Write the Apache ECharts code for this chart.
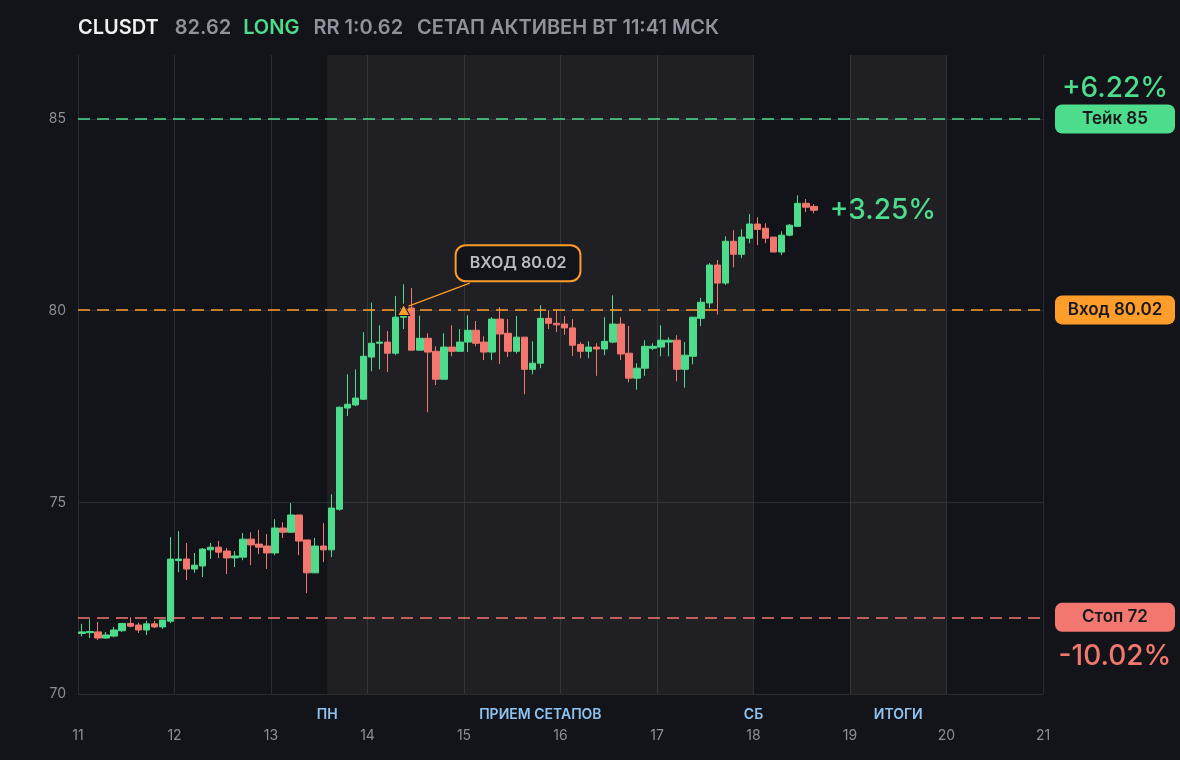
<!DOCTYPE html>
<html><head><meta charset="utf-8">
<script src="https://cdn.jsdelivr.net/npm/echarts@6/dist/echarts.min.js"></script>
<style>html,body{margin:0;padding:0;background:#131419;}#c{width:1180px;height:760px;}</style>
</head><body><div id="c"></div><script>
// ---- data ----
const ticker = 'CLUSDT';
const side = 'LONG';
const statusText = 'СЕТАП АКТИВЕН ВТ 11:41 МСК';
const startDay = 11;          // first candle day
const candleHours = 2;        // candle period, hours
const xTicks = [11, 21];      // x axis range (days)
const yTicks = [70, 86.67];   // y axis range
const entry = 80.02, take = 85, stop = 72;
const entryCandle = 40;
const opens = [71.58,71.60,71.62,71.46,71.51,71.65,71.84,71.80,71.67,71.83,71.75,71.90,
  73.48,73.52,73.26,73.34,73.76,73.83,73.73,73.55,73.57,74.04,73.91,73.86,
  73.68,74.33,74.22,74.67,74.02,73.16,73.86,73.76,74.82,77.46,77.54,77.69,
  78.79,79.15,79.18,78.89,79.83,80.07,78.97,79.28,78.94,78.21,79.05,78.94,
  79.18,79.49,79.18,78.92,79.78,79.41,78.94,79.31,78.47,78.63,79.80,79.67,
  79.65,79.55,79.12,78.94,79.05,79.00,79.18,79.65,78.89,78.24,78.50,79.02,
  79.05,79.18,79.23,78.47,78.81,79.80,80.20,81.19,80.72,81.81,81.47,81.89,
  82.26,82.15,81.92,81.53,81.97,82.20,82.80,82.72];
const closes = [71.62,71.63,71.46,71.54,71.67,71.84,71.77,71.67,71.83,71.75,71.93,73.52,
  73.52,73.26,73.36,73.78,73.83,73.70,73.55,73.60,74.04,73.89,73.83,73.68,
  74.33,74.22,74.67,73.99,73.16,73.86,73.76,74.85,77.48,77.56,77.72,78.81,
  79.15,79.18,78.89,79.83,80.05,78.97,79.28,78.92,78.21,79.05,78.94,79.18,
  79.49,79.15,78.92,79.78,79.39,78.94,79.31,78.47,78.63,79.80,79.67,79.63,
  79.55,79.10,78.94,79.05,79.00,79.20,79.65,78.87,78.24,78.50,79.07,79.07,
  79.23,79.23,78.47,78.84,79.83,80.22,81.19,80.72,81.81,81.47,81.92,82.26,
  82.12,81.89,81.53,81.97,82.23,82.80,82.70,82.62];
const lows = [71.50,71.46,71.41,71.44,71.48,71.62,71.74,71.59,71.54,71.72,71.70,71.85,
  73.18,72.97,73.16,73.05,73.52,73.55,73.13,73.31,73.49,73.36,73.65,73.26,
  73.62,74.07,74.20,73.62,72.63,73.16,73.44,73.57,74.78,77.25,77.51,77.67,
  78.42,78.47,78.40,78.84,79.52,78.97,78.97,77.35,78.06,78.21,78.81,78.94,
  78.92,79.07,78.71,78.71,78.61,78.79,78.88,77.82,78.34,78.50,79.52,79.44,
  79.37,78.82,78.76,78.76,78.30,78.84,79.15,78.71,78.13,77.94,78.30,78.97,
  78.81,78.81,78.16,77.99,78.60,79.60,80.07,79.90,80.67,81.13,81.37,81.76,
  81.71,81.76,81.53,81.45,81.94,82.20,82.57,82.54];
const highs = [71.83,71.95,71.88,71.62,71.75,71.84,72.00,71.86,71.91,71.91,71.93,74.09,
  74.25,73.94,73.68,73.81,73.94,73.99,73.81,73.73,74.20,74.22,74.28,74.17,
  74.56,74.48,74.98,74.67,74.02,74.07,74.46,75.21,77.50,78.34,78.47,79.44,
  80.21,79.62,79.47,80.38,80.69,80.59,79.87,79.41,79.07,79.41,79.62,79.52,
  79.88,79.73,79.33,79.83,80.09,79.78,79.86,79.31,79.20,80.14,80.01,80.00,
  79.86,79.78,79.18,79.20,79.15,79.83,80.40,79.83,79.60,78.63,79.23,79.15,
  79.62,79.31,79.36,79.18,79.83,80.33,81.24,81.32,81.94,82.10,82.12,82.52,
  82.44,82.28,81.92,82.07,82.26,83.01,82.91,82.78];
const bandFrom = [13.583, 19];
const bandTo = [18, 20];
const bandLabels = ['ПРИЕМ СЕТАПОВ', 'ИТОГИ'];
const edgeX = [13.583, 18];
const edgeLabels = ['ПН', 'СБ'];

// ---- styles ----
const FONT = 'Inter, "Noto Sans", sans-serif';
const GREEN = '#4ddc8c', RED = '#f3776f', ORANGE = '#ff9d2b';
const GRAY = '#8a8f98', BLUE = '#8fc3f0';

const times = opens.map((_, i) => startDay + (i * candleHours + candleHours / 2) / 24);
const candles = opens.map((o, i) => [times[i], o, closes[i], lows[i], highs[i]]);
const last = closes.length - 1;
const pct = v => ((v - entry) / entry * 100);
const fmtPct = v => (v >= 0 ? '+' : '') + v.toFixed(2) + '%';
const rr = ((take - entry) / (entry - stop)).toFixed(2);

function levelLine(val, color, text) {
  return {
    yAxis: val,
    lineStyle: { color, type: [12, 7], width: 1.5 },
    label: {
      show: true, position: 'end', distance: 12,
      formatter: '{b|' + text + '}',
      rich: { b: { width: 120, height: 29, lineHeight: 29, align: 'center',
        backgroundColor: color, borderRadius: 7, color: '#17181c',
        fontSize: 17, fontWeight: 600, fontFamily: FONT } }
    }
  };
}

const bandLabelStyle = { color: BLUE, fontSize: 14, fontWeight: 600, fontFamily: FONT };

const chart = echarts.init(document.getElementById('c'), null, { renderer: 'canvas' });
chart.setOption({
  backgroundColor: '#131419',
  animation: false,
  title: {
    left: 78, top: 18, padding: 0,
    text: '{t|' + ticker + '}{p|' + closes[last].toFixed(2) + '}{l|' + side + '}{g|RR 1:' + rr + '}{g|' + statusText + '}',
    textStyle: {
      rich: {
        t: { color: '#eef0f3', fontSize: 20, fontWeight: 600, fontFamily: FONT },
        p: { color: '#8e939b', fontSize: 20, fontWeight: 600, fontFamily: FONT, padding: [0, 0, 0, 16] },
        l: { color: GREEN, fontSize: 20, fontWeight: 600, fontFamily: FONT, padding: [0, 0, 0, 12] },
        g: { color: '#8e939b', fontSize: 20, fontWeight: 600, fontFamily: FONT, padding: [0, 0, 0, 14] }
      }
    }
  },
  grid: { left: 78, right: 137, top: 55, bottom: 66 },
  xAxis: {
    type: 'value', min: xTicks[0], max: xTicks[1], interval: 1,
    axisLine: { show: false }, axisTick: { show: false },
    axisLabel: { color: GRAY, fontSize: 14, fontFamily: FONT, margin: 35 },
    splitLine: { show: true, lineStyle: { color: '#2a2c32', width: 1 } }
  },
  yAxis: {
    type: 'value', min: yTicks[0], max: yTicks[1], interval: 5,
    axisLine: { show: false }, axisTick: { show: false },
    axisLabel: { color: GRAY, fontSize: 14, fontFamily: FONT, margin: 12, showMaxLabel: false },
    splitLine: { show: true, showMaxLine: false, lineStyle: { color: '#2a2c32', width: 1 } }
  },
  series: [{
    type: 'candlestick',
    data: candles,
    encode: { x: 0, y: [1, 2, 3, 4] },
    barWidth: 7,
    itemStyle: { color: GREEN, color0: RED, borderColor: GREEN, borderColor0: RED, borderWidth: 1 },
    markArea: {
      silent: true,
      itemStyle: { color: 'rgba(255,255,255,0.05)' },
      label: Object.assign({ show: true, position: 'bottom', distance: 14 }, bandLabelStyle),
      data: bandFrom.map((f, i) => [{ xAxis: f, name: bandLabels[i] }, { xAxis: bandTo[i] }])
    },
    markLine: {
      silent: true, symbol: 'none', animation: false,
      data: [
        levelLine(take, GREEN, 'Тейк ' + take),
        levelLine(entry, ORANGE, 'Вход ' + entry.toFixed(2)),
        levelLine(stop, RED, 'Стоп ' + stop),
        [{ coord: [times[entryCandle] + 0.05, entry + 0.1], lineStyle: { color: ORANGE, type: 'solid', width: 1.2 }, label: { show: false } },
         { coord: [15.06, 80.72] }]
      ]
    },
    markPoint: {
      silent: true, animation: false,
      data: [
        { coord: [times[entryCandle], entry], symbol: 'triangle', symbolSize: [12, 11],
          itemStyle: { color: ORANGE, borderColor: '#131419', borderWidth: 1 }, label: { show: false } },
        { coord: [15.56, 81.24], symbolSize: 0,
          label: { show: true, position: 'inside', formatter: 'ВХОД ' + entry.toFixed(2),
            color: '#b9bcc3', fontSize: 16, fontWeight: 600, fontFamily: FONT,
            backgroundColor: '#131419', borderColor: ORANGE, borderWidth: 2, borderRadius: 9,
            padding: [9, 13, 9, 13] } },
        { coord: [times[last], closes[last]], symbolSize: 0,
          label: { show: true, position: 'right', distance: 16, formatter: fmtPct(pct(closes[last])),
            color: GREEN, fontSize: 28, fontWeight: 500, fontFamily: FONT, padding: [4, 0, 0, 0] } }
      ].concat(edgeX.map((x, i) => ({ coord: [x, yTicks[0]], symbolSize: 0,
          label: Object.assign({ show: true, position: 'bottom', distance: 14, formatter: edgeLabels[i] }, bandLabelStyle) })))
    }
  }]
});

const pTake = chart.convertToPixel({ gridIndex: 0 }, [xTicks[1], take]);
const pStop = chart.convertToPixel({ gridIndex: 0 }, [xTicks[1], stop]);
chart.setOption({
  graphic: [
    { type: 'text', x: pTake[0] + 72, y: pTake[1] - 30,
      style: { text: fmtPct(pct(take)), fill: GREEN, font: '500 28px ' + FONT, textAlign: 'center', textVerticalAlign: 'middle' } },
    { type: 'text', x: pStop[0] + 72, y: pStop[1] + 39,
      style: { text: fmtPct(pct(stop)).replace('+', ''), fill: RED, font: '500 28px ' + FONT, textAlign: 'center', textVerticalAlign: 'middle' } }
  ]
});
</script></body></html>
